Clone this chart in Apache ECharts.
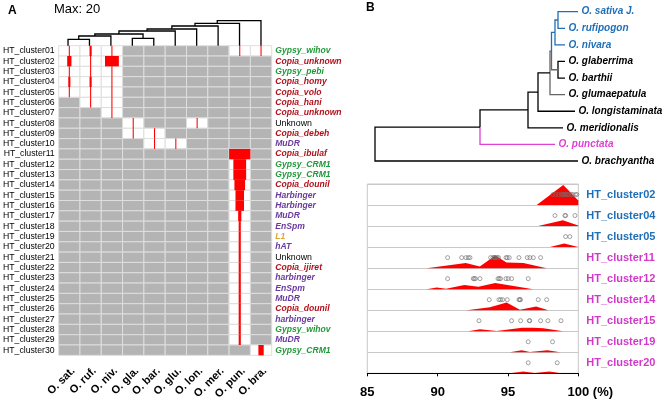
<!DOCTYPE html>
<html><head><meta charset="utf-8">
<script src="https://cdn.jsdelivr.net/npm/echarts@6/dist/echarts.min.js"></script>
<style>html,body{margin:0;padding:0;background:#fff}#c{width:667px;height:402px}</style>
</head><body><div id="c"></div>
<script>
// ---------------- DATA ----------------
const species = ['O. sat.','O. ruf.','O. niv.','O. gla.','O. bar.','O. glu.','O. lon.','O. mer.','O. pun.','O. bra.'];
const clusters = ['HT_cluster01','HT_cluster02','HT_cluster03','HT_cluster04','HT_cluster05','HT_cluster06','HT_cluster07','HT_cluster08','HT_cluster09','HT_cluster10',
  'HT_cluster11','HT_cluster12','HT_cluster13','HT_cluster14','HT_cluster15','HT_cluster16','HT_cluster17','HT_cluster18','HT_cluster19','HT_cluster20',
  'HT_cluster21','HT_cluster22','HT_cluster23','HT_cluster24','HT_cluster25','HT_cluster26','HT_cluster27','HT_cluster28','HT_cluster29','HT_cluster30'];
const teNames = ['Gypsy_wihov','Copia_unknown','Gypsy_pebi','Copia_homy','Copia_volo','Copia_hani','Copia_unknown','Unknown','Copia_debeh','MuDR',
  'Copia_ibulaf','Gypsy_CRM1','Gypsy_CRM1','Copia_dounil','Harbinger','Harbinger','MuDR','EnSpm','L1','hAT',
  'Unknown','Copia_ijiret','harbinger','EnSpm','MuDR','Copia_dounil','harbinger','Gypsy_wihov','MuDR','Gypsy_CRM1'];
// 1 = species present (white cell), 0 = absent (grey cell)
const presence = ['1110000011','1110000000','1110000000','1110000000','1110000000','0110000000','0010000000','0001001000','0001100000','0000110000',
  '0000000010','0000000010','0000000010','0000000010','0000000010','0000000010','0000000010','0000000010','0000000010','0000000010',
  '0000000010','0000000010','0000000010','0000000010','0000000010','0000000010','0000000010','0000000010','0000000010','0000000001'];
const counts = [
  [1,2,1,0,0,0,0,0,1,1],[4,1,13,0,0,0,0,0,0,0],[1,1,1,0,0,0,0,0,0,0],[2,2,1,0,0,0,0,0,0,0],[1,1,1,0,0,0,0,0,0,0],
  [0,1,1,0,0,0,0,0,0,0],[0,0,1,0,0,0,0,0,0,0],[0,0,0,1,0,0,1,0,0,0],[0,0,0,1,1,0,0,0,0,0],[0,0,0,0,1,1,0,0,0,0],
  [0,0,0,0,0,0,0,0,20,0],[0,0,0,0,0,0,0,0,12,0],[0,0,0,0,0,0,0,0,12,0],[0,0,0,0,0,0,0,0,10,0],[0,0,0,0,0,0,0,0,8,0],
  [0,0,0,0,0,0,0,0,8,0],[0,0,0,0,0,0,0,0,3,0],[0,0,0,0,0,0,0,0,2,0],[0,0,0,0,0,0,0,0,2,0],[0,0,0,0,0,0,0,0,2,0],
  [0,0,0,0,0,0,0,0,2,0],[0,0,0,0,0,0,0,0,2,0],[0,0,0,0,0,0,0,0,2,0],[0,0,0,0,0,0,0,0,2,0],[0,0,0,0,0,0,0,0,2,0],
  [0,0,0,0,0,0,0,0,2,0],[0,0,0,0,0,0,0,0,2,0],[0,0,0,0,0,0,0,0,2,0],[0,0,0,0,0,0,0,0,2,0],[0,0,0,0,0,0,0,0,0,5]];
const maxCount = 20;
// dendrogram over species: [childA, childB, height]; new nodes numbered from 10
const dendroMerges = [[0,1,6.4],[3,4,7.4],[10,2,9.7],[12,11,11.7],[13,5,14.7],[14,6,16.7],[15,7,19.7],[16,8,22.4],[17,9,25]];

// Panel B tree
const treeLeaves = ['O. sativa J.','O. rufipogon','O. nivara','O. glaberrima','O. barthii','O. glumaepatula','O. longistaminata','O. meridionalis','O. punctata','O. brachyantha'];
const treeTipDepth = [203,190,190,190,190,190,200,188,180,203];
// [childA, childB, depth]; new nodes numbered from 10
const treeMerges = [[0,1,183],[10,2,180],[3,4,183],[11,12,176.5],[13,5,175],[14,6,163],[15,7,153],[16,8,105],[17,9,0]];

// Panel B ridges
const ridgeClusters = ['HT_cluster02','HT_cluster04','HT_cluster05','HT_cluster11','HT_cluster12','HT_cluster14','HT_cluster15','HT_cluster19','HT_cluster20'];
const dots02 = [98.2,98.4,98.6,98.8,98.9,99.0,99.1,99.2,99.3,99.5,99.6,99.8,99.9];
const dots04 = [98.34,99.05,99.1,99.76];
const dots05 = [99.1,99.4];
const dots11 = [90.71,91.71,92.01,92.18,92.30,93.77,93.93,94.03,94.05,94.13,94.24,94.33,94.86,94.95,95.09,95.78,96.37,96.56,96.80,97.32];
const dots12 = [90.71,92.53,92.61,92.69,93.01,94.29,94.38,94.47,94.86,95.02,95.26,96.44];
const dots14 = [93.67,94.36,94.48,94.62,94.95,95.78,95.84,95.89,97.15,97.75];
const dots15 = [92.94,95.26,95.90,96.51,96.55,97.32,97.84,98.77];
const dots19 = [96.44,98.17];
const dots20 = [96.44,98.5];
// density outline vertices [percent, height as fraction of row]
const dens02 = [[97.04,0],[98.93,0.95],[100,0.22],[100,0]];
const dens04 = [[97.15,0],[98.9,0.28],[100,0.03],[100,0]];
const dens05 = [[97.98,0],[99.0,0.17],[100,0]];
const dens11 = [[89.22,0],[92.0,0.24],[93.0,0.08],[94.1,0.6],[94.9,0.27],[96.1,0.24],[97.75,0]];
const dens12 = [[89.22,0],[89.93,0.08],[90.6,0.02],[91.9,0.2],[92.9,0.12],[94.1,0.29],[96.8,0]];
const dens14 = [[92.07,0],[93.72,0.14],[94.9,0.37],[95.85,0.02],[97.0,0.18],[97.87,0]];
const dens15 = [[92.18,0],[93.01,0.1],[94.2,0.01],[96.0,0.16],[96.8,0.17],[97.51,0.14],[98.93,0]];
const dens19 = [[95.14,0],[95.97,0.1],[96.56,0.01],[97.8,0.1],[98.7,0]];
const dens20 = [[95.14,0],[96.09,0.08],[96.9,0.01],[97.94,0.08],[98.8,0]];

// ---------------- BUILD ----------------
const ridgeDots = [dots02,dots04,dots05,dots11,dots12,dots14,dots15,dots19,dots20];
const ridgeDens = [dens02,dens04,dens05,dens11,dens12,dens14,dens15,dens19,dens20];
const FONT = '"Liberation Sans", Arial, Helvetica, sans-serif';
const RED = '#ff0000', GREY = '#b4b4b4';
const famColor = n => n.startsWith('Gypsy') ? 'g' : n.startsWith('Copia') ? 'c' : n === 'Unknown' ? 'u' : n === 'L1' ? 'l' : 'p';

const cellData = [];
clusters.forEach((cl, r) => species.forEach((sp, c) => cellData.push([c, r, +presence[r][c], counts[r][c]])));

const dPos = species.map((_, i) => i), dH = species.map(() => 0);
const dendroSegs = dendroMerges.map(([a, b, h]) => {
  const s = [dPos[a], dPos[b], dH[a], dH[b], h];
  dPos.push((dPos[a] + dPos[b]) / 2); dH.push(h); return s;
});

const tY = treeLeaves.map((_, i) => i), tX = treeTipDepth.slice();
const treeEdges = [];
treeMerges.forEach(([a, b, x]) => {
  const y = (tY[a] + tY[b]) / 2;
  treeEdges.push([x, y, tX[a], tY[a], a]); treeEdges.push([x, y, tX[b], tY[b], b]);
  tX.push(x); tY.push(y);
});
const edgeColor = id => ([0,1,2,10,11].includes(id) ? '#1f6fb8' : id === 8 ? '#e03fd4' : [12,13,5].includes(id) ? '#666' : '#000');
const leafColor = i => (i <= 2 ? '#1f6fb8' : i === 8 ? '#e03fd4' : '#000');

const nR = ridgeClusters.length;
const scatterData = [];
ridgeDots.forEach((arr, k) => arr.forEach(v => scatterData.push([v, nR - 1 - k + 0.5])));

const option = {
  animation: false,
  textStyle: { fontFamily: FONT },
  grid: [
    { left: 57.3, top: 45.7, width: 214.4, height: 320.3 },
    { left: 57.3, top: 18, width: 214.4, height: 27.7 },
    { left: 375, top: 11.7, width: 210, height: 149.3 },
    { left: 367.3, top: 184, width: 211, height: 189.3, show: true, borderColor: '#c8c8c8', borderWidth: 1 }
  ],
  xAxis: [
    { gridIndex: 0, type: 'category', data: species, axisLine: { show: false }, axisTick: { show: false },
      axisLabel: { interval: 0, rotate: 45, margin: 10, verticalAlign: 'top', fontSize: 11, fontWeight: 'bold', color: '#000', fontFamily: FONT } },
    { gridIndex: 1, type: 'value', min: -0.5, max: 9.5, show: false },
    { gridIndex: 2, type: 'value', min: 0, max: 210, show: false },
    { gridIndex: 3, type: 'value', min: 85, max: 100, interval: 5, offset: 9,
      axisLine: { lineStyle: { color: '#000', width: 1 } }, axisTick: { length: 3, lineStyle: { color: '#000' } },
      splitLine: { show: false },
      axisLabel: { margin: 4, fontSize: 13, fontWeight: 'bold', color: '#000', fontFamily: FONT,
        formatter: v => v === 100 ? '{pad|}100 (%)' : String(v),
        rich: { pad: { width: 24 } } } }
  ],
  yAxis: [
    { gridIndex: 0, type: 'category', data: clusters, inverse: true, axisLine: { show: false }, axisTick: { show: false },
      axisLabel: { interval: 0, margin: 4, fontSize: 8.7, color: '#000', fontFamily: FONT } },
    { gridIndex: 0, type: 'category', data: teNames, inverse: true, position: 'right', axisLine: { show: false }, axisTick: { show: false },
      axisLabel: { interval: 0, margin: 3.5, formatter: v => '{' + famColor(v) + '|' + v + '}',
        rich: {
          g: { color: '#229a3a', fontStyle: 'italic', fontWeight: 'bold', fontSize: 8.6, fontFamily: FONT },
          c: { color: '#b0121b', fontStyle: 'italic', fontWeight: 'bold', fontSize: 8.6, fontFamily: FONT },
          p: { color: '#6a3a9e', fontStyle: 'italic', fontWeight: 'bold', fontSize: 8.6, fontFamily: FONT },
          l: { color: '#e5a22f', fontStyle: 'italic', fontWeight: 'bold', fontSize: 8.6, fontFamily: FONT },
          u: { color: '#000', fontSize: 8.8, fontFamily: FONT }
        } } },
    { gridIndex: 1, type: 'value', min: 0, max: 27.7, show: false },
    { gridIndex: 2, type: 'value', min: 0, max: 9, inverse: true, show: false },
    { gridIndex: 3, type: 'value', min: 0, max: nR, interval: 1, axisLine: { show: false }, axisTick: { show: false }, axisLabel: { show: false },
      splitLine: { show: true, lineStyle: { color: '#c8c8c8', width: 1 } } },
    { gridIndex: 3, type: 'category', data: ridgeClusters, inverse: true, position: 'right', axisLine: { show: false }, axisTick: { show: false },
      axisLabel: { interval: 0, margin: 8, fontSize: 11, fontWeight: 'bold', fontFamily: FONT,
        color: (v) => (ridgeClusters.indexOf(v) < 3 ? '#1f6fb8' : '#d03ac8') } }
  ],
  series: [
    { type: 'custom', xAxisIndex: 0, yAxisIndex: 0, data: cellData, z: 1,
      renderItem: (p, api) => {
        const c = api.coord([api.value(0), api.value(1)]), s = api.size([1, 1]);
        return { type: 'rect', shape: { x: c[0] - s[0] / 2, y: c[1] - s[1] / 2, width: s[0], height: s[1] },
          style: { fill: api.value(2) ? '#fff' : GREY, stroke: '#dedede', lineWidth: 1 } };
      } },
    { type: 'custom', xAxisIndex: 0, yAxisIndex: 0, data: cellData.filter(d => d[3] > 0), z: 3,
      renderItem: (p, api) => {
        const c = api.coord([api.value(0), api.value(1)]), s = api.size([1, 1]);
        const w = api.value(3) / maxCount * s[0];
        return { type: 'rect', shape: { x: c[0] - w / 2, y: c[1] - s[1] / 2, width: w, height: s[1] },
          style: { fill: RED } };
      } },
    { type: 'custom', xAxisIndex: 1, yAxisIndex: 2, data: dendroSegs,
      renderItem: (p, api) => {
        const xa = api.value(0), xb = api.value(1), ha = api.value(2), hb = api.value(3), h = api.value(4);
        return { type: 'polyline', shape: { points: [api.coord([xa, ha]), api.coord([xa, h]), api.coord([xb, h]), api.coord([xb, hb])] },
          style: { stroke: '#000', lineWidth: 1.3, fill: null } };
      } },
    { type: 'custom', xAxisIndex: 2, yAxisIndex: 3, data: treeEdges,
      renderItem: (p, api) => {
        const px = api.value(0), py = api.value(1), cx = api.value(2), cy = api.value(3), id = api.value(4);
        return { type: 'polyline', shape: { points: [api.coord([px, py]), api.coord([px, cy]), api.coord([cx, cy])] },
          style: { stroke: edgeColor(id), lineWidth: 1.3, fill: null } };
      } },
    { type: 'custom', xAxisIndex: 2, yAxisIndex: 3, data: treeLeaves.map((n, i) => [treeTipDepth[i], i]),
      renderItem: (p, api) => {
        const c = api.coord([api.value(0), api.value(1)]);
        const i = p.dataIndex;
        return { type: 'text', x: c[0] + 3.5, y: c[1],
          style: { text: treeLeaves[i], fill: leafColor(i), font: 'italic bold 10px ' + FONT, textAlign: 'left', textVerticalAlign: 'middle' } };
      } },
    { type: 'custom', xAxisIndex: 3, yAxisIndex: 4, data: ridgeClusters.map((n, k) => [85, k]), z: 2,
      renderItem: (p, api) => {
        const k = p.dataIndex, base = nR - 1 - k;
        const pts = ridgeDens[k].map(([x, h]) => api.coord([x, base + h]));
        const first = ridgeDens[k][0][0], last = ridgeDens[k][ridgeDens[k].length - 1][0];
        pts.push(api.coord([last, base])); pts.push(api.coord([first, base]));
        return { type: 'polygon', shape: { points: pts }, style: { fill: RED } };
      } },
    { type: 'scatter', xAxisIndex: 3, yAxisIndex: 4, data: scatterData, symbol: 'circle', symbolSize: 4, z: 4,
      itemStyle: { color: 'rgba(255,255,255,0)', borderColor: '#6e6e6e', borderWidth: 0.8 } }
  ],
  graphic: [
    { type: 'text', left: 8, top: 5, style: { text: 'A', font: 'bold 12px ' + FONT, fill: '#000' } },
    { type: 'text', left: 54, top: 3, style: { text: 'Max: 20', font: '13px ' + FONT, fill: '#000' } },
    { type: 'text', left: 366, top: 2, style: { text: 'B', font: 'bold 12px ' + FONT, fill: '#000' } }
  ]
};
const chart = echarts.init(document.getElementById('c'));
chart.setOption(option);
</script></body></html>
